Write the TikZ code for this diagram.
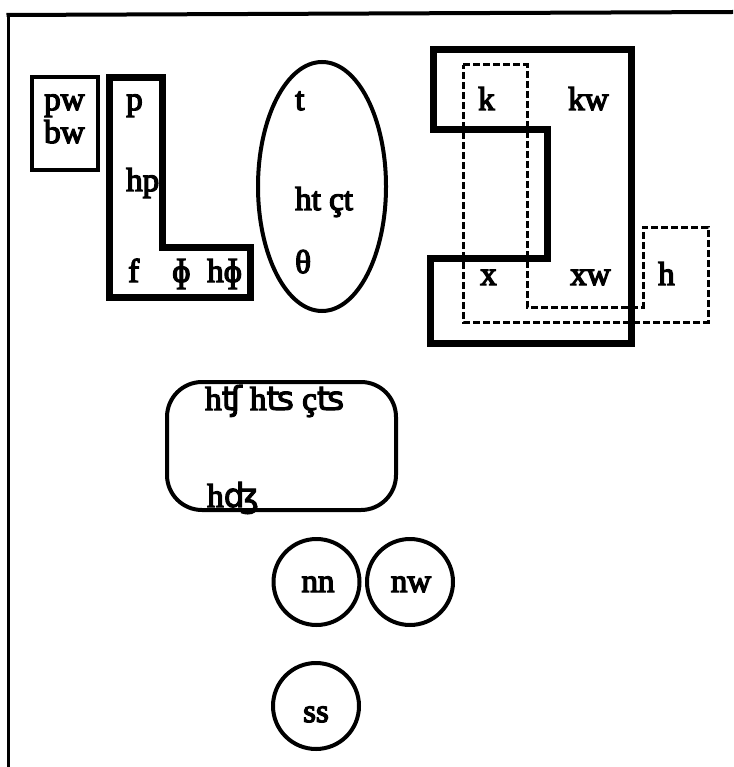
\documentclass[tikz,border=0pt]{standalone}
\usepackage{fontspec}
\setmainfont{Liberation Serif}[FakeBold=4]
\newfontfamily\ipafont{DejaVu Sans}[FakeBold=3]
\begin{document}
\begin{tikzpicture}[x=1pt,y=-1pt,
  lab/.style={anchor=base west, inner sep=0pt, font=\fontsize{33}{36}\selectfont},
  clab/.style={anchor=base, inner sep=0pt, font=\fontsize{33}{36}\selectfont},
  heavy/.style={draw, line width=7pt, line join=miter},
  medium/.style={draw, line width=4.5pt},
  dashbox/.style={draw, line width=3pt, dash pattern=on 7pt off 3pt},
  ring/.style={draw, line width=4pt, circle, minimum size=86pt, inner sep=0pt}]
\useasboundingbox (0,0) rectangle (733,767);
% frame
\draw[line width=3pt] (8,767) -- (8,15);
\draw[line width=4pt] (6.5,15) -- (733,12);
% pw bw box
\draw[medium] (32,77) rectangle (98,170);
\node[lab] (pw) at (44,110) {pw};
\node[lab] (bw) at (44,143) {bw};
% L shape
\draw[heavy] (109,78) -- (162,78) -- (162,247) -- (250,247) -- (250,297) -- (109,297) -- cycle;
\node[lab] (p) at (126,110) {p};
\node[lab] (hp) at (126,191) {hp};
\node[lab] (f) at (128,282) {f};
\node[lab] (phi) at (172,282) {ɸ};
\node[lab] (hphi) at (207,282) {hɸ};
% ellipse
\draw[line width=4pt] (322,186.5) ellipse [x radius=64pt, y radius=124.5pt];
\node[lab] (t) at (295,110) {t};
\node[lab] (ht) at (295,210) {ht çt};
\node[lab] (theta) at (295,273) {θ};
% velar group
\draw[heavy] (433,50) -- (631,50) -- (631,343) -- (430,343) -- (430,258) -- (547,258) -- (547,130) -- (433,130) -- cycle;
\draw[dashbox] (463,65) -- (527,65) -- (527,307) -- (643,307) -- (643,227) -- (708,227) -- (708,322) -- (463,322) -- cycle;
\node[lab] (k) at (478,110) {k};
\node[lab] (kw) at (568,110) {kw};
\node[lab] (x) at (480,285) {x};
\node[lab] (xw) at (570,285) {xw};
\node[lab] (h) at (658,285) {h};
% affricates
\draw[line width=4pt, rounded corners=35pt] (167,382) rectangle (396,510);
\node[lab] (aff1) at (205,410) {h{\ipafont ʧ} h{\ipafont ʦ} ç{\ipafont ʦ}};
\node[lab] (aff2) at (207,507) {h{\ipafont ʤ}};
% circles
\node[ring] (cnn) at (316.5,582) {};
\node[ring] (cnw) at (410,582) {};
\node[ring] (css) at (316,706) {};
\node[clab] (nn) at (318,592) {nn};
\node[clab] (nw) at (411,592) {nw};
\node[clab] (ss) at (316,722) {ss};
\end{tikzpicture}
\end{document}
